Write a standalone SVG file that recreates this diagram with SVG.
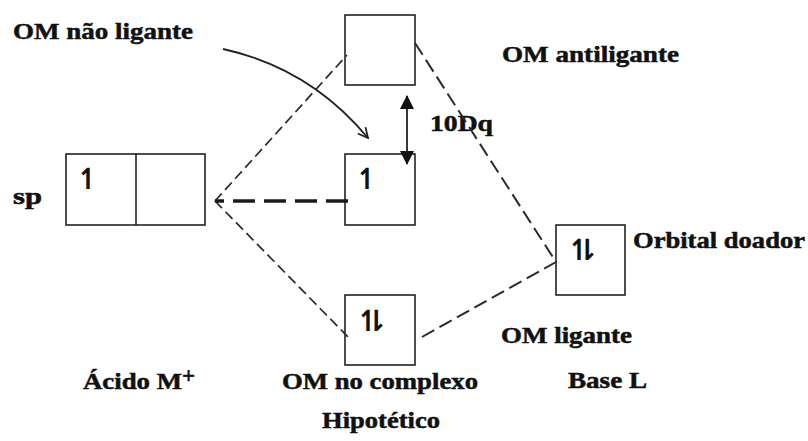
<svg xmlns="http://www.w3.org/2000/svg" width="808" height="441" viewBox="0 0 808 441">
  <style>
    .lbl { font-family: "Liberation Serif", "Times New Roman", serif; font-weight: bold; font-size: 23px; fill: #111; stroke: #111; stroke-width: 0.5; }
    .spin { font-family: "DejaVu Sans", sans-serif; font-weight: bold; font-size: 29px; fill: #111; text-anchor: middle; }
    .pair { letter-spacing: -16px; }
    .box { fill: none; stroke: #222; stroke-width: 1.6; }
    .thin { fill: none; stroke: #2a2a2a; stroke-width: 1.7; stroke-dasharray: 10 5; }
    .long { fill: none; stroke: #2a2a2a; stroke-width: 2; stroke-dasharray: 14 6; }
    .thick { fill: none; stroke: #1a1a1a; stroke-width: 3.5; stroke-dasharray: 22 9; }
    .solid { fill: none; stroke: #222; stroke-width: 1.8; }
  </style>
  <defs>
    <marker id="tri" viewBox="0 0 14 14" refX="13" refY="7" markerWidth="14" markerHeight="14" markerUnits="userSpaceOnUse" orient="auto-start-reverse">
      <path d="M0,0 L14,7 L0,14 Z" fill="#111"/>
    </marker>
    <marker id="open" viewBox="0 0 12 12" refX="11" refY="6" markerWidth="12" markerHeight="12" markerUnits="userSpaceOnUse" orient="auto">
      <path d="M1,1 L11,6 L1,11" fill="none" stroke="#222" stroke-width="1.8"/>
    </marker>
  </defs>
  <rect width="808" height="441" fill="#fff"/>

  <!-- metal sp orbitals -->
  <g id="sp">
    <rect class="box" x="66" y="154" width="139" height="71"/>
    <line x1="136" y1="154" x2="136" y2="225" stroke="#222" stroke-width="1.6"/>
    <text class="spin" x="88" y="189">↿</text>
    <text class="lbl" x="13" y="204" textLength="29" lengthAdjust="spacingAndGlyphs">sp</text>
  </g>

  <!-- antibonding MO -->
  <g id="om-antiligante">
    <rect class="box" x="345" y="15" width="70" height="70"/>
    <text class="lbl" x="502" y="62" textLength="177" lengthAdjust="spacingAndGlyphs">OM antiligante</text>
  </g>

  <!-- non-bonding MO -->
  <g id="om-nao-ligante">
    <rect class="box" x="345" y="154" width="70" height="71"/>
    <text class="spin" x="367" y="189">↿</text>
    <text class="lbl" x="13" y="39" textLength="180" lengthAdjust="spacingAndGlyphs">OM não ligante</text>
  </g>

  <!-- bonding MO -->
  <g id="om-ligante">
    <rect class="box" x="345" y="295" width="70" height="70"/>
    <text class="spin pair" x="364" y="331">↿⇂</text>
    <text class="lbl" x="501" y="343" textLength="131" lengthAdjust="spacingAndGlyphs">OM ligante</text>
  </g>

  <!-- donor orbital of the base -->
  <g id="orbital-doador">
    <rect class="box" x="556" y="225" width="69" height="70"/>
    <text class="spin pair" x="575" y="260">↿⇂</text>
    <text class="lbl" x="633" y="248" textLength="172" lengthAdjust="spacingAndGlyphs">Orbital doador</text>
  </g>

  <!-- splitting label -->
  <g id="dq">
    <text class="lbl" x="430" y="131" textLength="63" lengthAdjust="spacingAndGlyphs">10Dq</text>
  </g>

  <!-- column captions -->
  <g id="captions">
    <text class="lbl" x="83" y="389" textLength="99" lengthAdjust="spacingAndGlyphs">Ácido M</text>
    <text class="lbl" x="182" y="383" font-size="12" stroke-width="0.3">+</text>
    <text class="lbl" x="282" y="389" textLength="196" lengthAdjust="spacingAndGlyphs">OM no complexo</text>
    <text class="lbl" x="322" y="428" textLength="118" lengthAdjust="spacingAndGlyphs">Hipotético</text>
    <text class="lbl" x="568" y="388" textLength="79" lengthAdjust="spacingAndGlyphs">Base L</text>
  </g>

  <!-- connectors -->
  <g id="connectors">
    <path class="thin" d="M215,201 L347,55"/>
    <path class="thin" d="M215,201 L348,337"/>
    <path class="thick" d="M348,201 L215,201"/>
    <path class="long" d="M415,43 L556,262"/>
    <path class="long" d="M422,337 L556,262"/>
    <path class="solid" d="M407,96 L407,164" marker-start="url(#tri)" marker-end="url(#tri)"/>
    <path class="solid" d="M223,49 Q310,68 368,138" marker-end="url(#open)"/>
  </g>
</svg>
